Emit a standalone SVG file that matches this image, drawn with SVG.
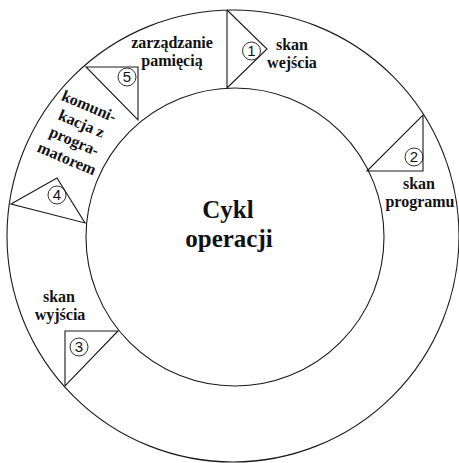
<svg xmlns="http://www.w3.org/2000/svg" width="459" height="463" viewBox="0 0 459 463">
<style>
.ln{fill:none;stroke:#1a1a1a;stroke-width:1.1}
.lbl{font-family:"Liberation Serif","Times New Roman",serif;font-weight:bold;font-size:16px;fill:#111;text-anchor:middle}
.big{font-family:"Liberation Serif","Times New Roman",serif;font-weight:bold;font-size:25px;fill:#111;text-anchor:middle}
.num{font-family:"Liberation Sans",Arial,sans-serif;font-size:15px;fill:#111;text-anchor:middle}
.nc{fill:none;stroke:#1a1a1a;stroke-width:0.9}
</style>
<rect width="459" height="463" fill="#fff"/>
<g id="connectors">
<circle class="ln" cx="233" cy="236" r="226"/>
</g>
<g id="center">
<circle class="ln" cx="235" cy="237" r="149"/>
<text class="big" x="228" y="218">Cykl</text>
<text class="big" x="229" y="247">operacji</text>
</g>
<g id="step1">
<path class="ln" d="M227,10 L227,88 M227,10 L267,49 L227,88"/>
<circle class="nc" cx="251.5" cy="51" r="9"/>
<text class="num" x="251.5" y="56.4">1</text>
<text class="lbl" x="292" y="50">skan</text>
<text class="lbl" x="292" y="68">wejścia</text>
</g>
<g id="step2">
<path class="ln" d="M367,171 L423,171 L423,115 Z"/>
<circle class="nc" cx="414" cy="157" r="9"/>
<text class="num" x="414" y="162.4">2</text>
<text class="lbl" x="419" y="189">skan</text>
<text class="lbl" x="420" y="207">programu</text>
</g>
<g id="step3">
<path class="ln" d="M65,386 L65,331 L118,331 Z"/>
<circle class="nc" cx="79" cy="347" r="9"/>
<text class="num" x="79" y="352.4">3</text>
<text class="lbl" x="59" y="302">skan</text>
<text class="lbl" x="60" y="320">wyjścia</text>
</g>
<g id="step4">
<path class="ln" d="M11,204 L57,178 L85,223 Z"/>
<circle class="nc" cx="57" cy="195" r="9"/>
<text class="num" x="57" y="200.4">4</text>
<g transform="translate(87,111) rotate(23)">
<text class="lbl" x="0" y="0">komuni-</text>
<text class="lbl" x="0" y="19">kacja z</text>
<text class="lbl" x="0" y="38">progra-</text>
<text class="lbl" x="0" y="57">matorem</text>
</g>
</g>
<g id="step5">
<path class="ln" d="M86,67 L138,67 L138,120 Z"/>
<circle class="nc" cx="127" cy="77" r="9"/>
<text class="num" x="127" y="82.4">5</text>
<text class="lbl" x="172" y="48">zarządzanie</text>
<text class="lbl" x="172" y="66">pamięcią</text>
</g>
</svg>
